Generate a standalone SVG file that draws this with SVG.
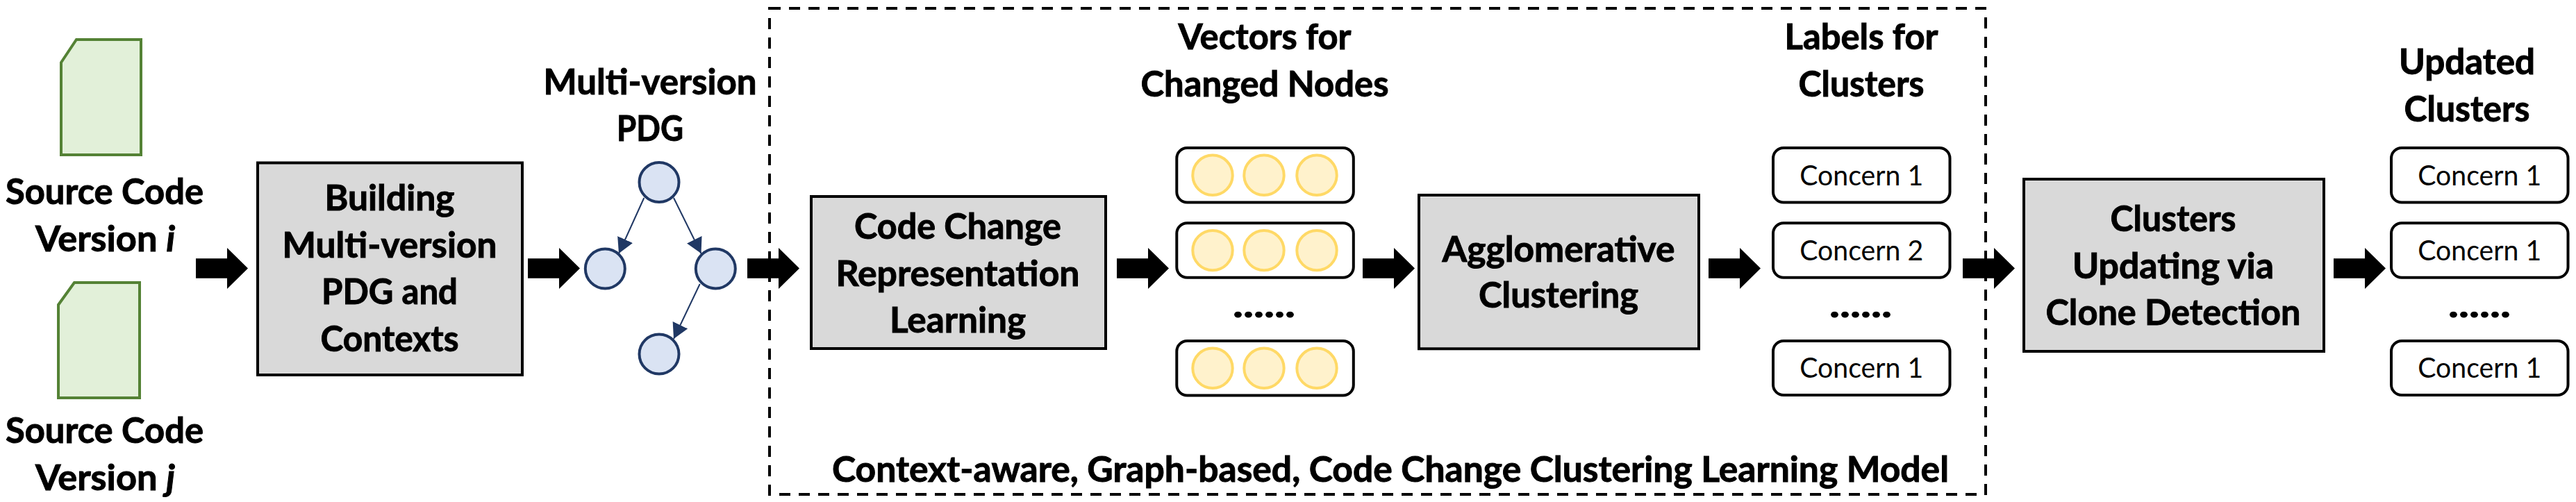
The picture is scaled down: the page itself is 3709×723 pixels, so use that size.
<svg xmlns="http://www.w3.org/2000/svg" xmlns:xlink="http://www.w3.org/1999/xlink" width="3709" height="723" viewBox="0 0 3709 723">
<style>
text{font-family:"Lato","Open Sans","Liberation Sans",sans-serif;fill:#000;text-anchor:middle}
.b{font-size:52px;font-weight:700;stroke:#000;stroke-width:1px}
.c{font-size:40px;font-weight:400}
.doc{fill:#E2F0D9;stroke:#548235;stroke-width:4}
.proc{fill:#D9D9D9;stroke:#000;stroke-width:4}
.pn{fill:#DAE3F3;stroke:#203864;stroke-width:4}
.rr{fill:#fff;stroke:#000;stroke-width:4}
.y{fill:#FFF2CC;stroke:#FFD966;stroke-width:4}
.e{stroke:#203864;stroke-width:2;fill:none;marker-end:url(#tri)}
.dash{fill:none;stroke:#000;stroke-width:4;stroke-dasharray:16 12}
</style>
<defs>
<marker id="tri" markerUnits="userSpaceOnUse" markerWidth="24" markerHeight="26" refX="22" refY="12" orient="auto"><path d="M0 0L22 12L0 24z" fill="#203864"/></marker>
<path id="ba" d="M0 -14.300H45V-29.500L75 0L45 29.500V14.300H0z" fill="#000"/>
<g id="vec"><rect class="rr" x="0" y="0" width="254.500" height="78.500" rx="15"/><circle class="y" cx="51.700" cy="39.300" r="28.700"/><circle class="y" cx="125.700" cy="39.300" r="28.700"/><circle class="y" cx="201.700" cy="39.300" r="28.700"/></g>
</defs>
<g id="container"><path class="dash" d="M1106 12H1108M1108 12H2860M1108 26V714M2859 25V713M1122 712H2846"/></g>
<g id="source-i"><path class="doc" d="M110 57H203V223H88V90z"/>
<text class="b" x="150.500" y="294" textLength="285" lengthAdjust="spacingAndGlyphs">Source Code</text>
<text class="b" x="151.500" y="361.700" textLength="201" lengthAdjust="spacingAndGlyphs">Version <tspan font-style="italic">i</tspan></text></g>
<g id="source-j"><path class="doc" d="M107 407H201V573H84V439z"/>
<text class="b" x="150.500" y="638" textLength="285" lengthAdjust="spacingAndGlyphs">Source Code</text>
<text class="b" x="151.500" y="705.700" textLength="201" lengthAdjust="spacingAndGlyphs">Version <tspan font-style="italic">j</tspan></text></g>
<g id="building"><rect class="proc" x="371" y="234.500" width="381" height="305.500"/>
<text class="b" x="561" y="302.700" textLength="187" lengthAdjust="spacingAndGlyphs">Building</text>
<text class="b" x="561" y="370.700" textLength="309" lengthAdjust="spacingAndGlyphs">Multi-version</text>
<text class="b" x="561" y="437.700" textLength="196" lengthAdjust="spacingAndGlyphs">PDG and</text>
<text class="b" x="561" y="505.700" textLength="199" lengthAdjust="spacingAndGlyphs">Contexts</text></g>
<g id="pdg"><text class="b" x="936" y="135.700" textLength="307" lengthAdjust="spacingAndGlyphs">Multi-version</text>
<text class="b" x="936" y="202.700" textLength="96" lengthAdjust="spacingAndGlyphs">PDG</text>
<circle class="pn" cx="949" cy="262.500" r="28.500"/><circle class="pn" cx="871.300" cy="387" r="28.500"/><circle class="pn" cx="1030.300" cy="387" r="28.500"/><circle class="pn" cx="949" cy="510" r="28.500"/>
<path class="e" d="M927.300 285L891 365"/><path class="e" d="M970 285L1009.500 365"/><path class="e" d="M1007.700 409L970 488"/></g>
<g id="repr"><rect class="proc" x="1168" y="283" width="424" height="219"/>
<text class="b" x="1379" y="344.200" textLength="298" lengthAdjust="spacingAndGlyphs">Code Change</text>
<text class="b" x="1379" y="411.700" textLength="351" lengthAdjust="spacingAndGlyphs">Representation</text>
<text class="b" x="1379" y="478.700" textLength="196" lengthAdjust="spacingAndGlyphs">Learning</text></g>
<g id="vectors"><text class="b" x="1821" y="71.200" textLength="249" lengthAdjust="spacingAndGlyphs">Vectors for</text>
<text class="b" x="1821" y="138.700" textLength="357" lengthAdjust="spacingAndGlyphs">Changed Nodes</text>
<use xlink:href="#vec" href="#vec" x="1694.300" y="213"/><use xlink:href="#vec" href="#vec" x="1694.300" y="321.300"/><use xlink:href="#vec" href="#vec" x="1694.300" y="491"/>
<text class="b" x="1820" y="456.500" textLength="90" lengthAdjust="spacingAndGlyphs">......</text></g>
<g id="agglo"><rect class="proc" x="2043" y="281" width="403" height="221.300"/>
<text class="b" x="2244" y="376.700" textLength="335" lengthAdjust="spacingAndGlyphs">Agglomerative</text>
<text class="b" x="2244" y="443.200" textLength="230" lengthAdjust="spacingAndGlyphs">Clustering</text></g>
<g id="labels"><text class="b" x="2680" y="71.200" textLength="221" lengthAdjust="spacingAndGlyphs">Labels for</text>
<text class="b" x="2680" y="138.700" textLength="181" lengthAdjust="spacingAndGlyphs">Clusters</text>
<rect class="rr" x="2553" y="213" width="254.500" height="78.500" rx="15"/><text class="c" x="2680.300" y="266.500" textLength="178" lengthAdjust="spacingAndGlyphs">Concern 1</text>
<rect class="rr" x="2553" y="321.300" width="254.500" height="78.500" rx="15"/><text class="c" x="2680.300" y="374.500" textLength="178" lengthAdjust="spacingAndGlyphs">Concern 2</text>
<text class="b" x="2679" y="456.500" textLength="90" lengthAdjust="spacingAndGlyphs">......</text>
<rect class="rr" x="2553" y="491" width="254.500" height="78" rx="15"/><text class="c" x="2680.300" y="544" textLength="178" lengthAdjust="spacingAndGlyphs">Concern 1</text></g>
<g id="clone"><rect class="proc" x="2914" y="258" width="432" height="248"/>
<text class="b" x="3129" y="332.700" textLength="181" lengthAdjust="spacingAndGlyphs">Clusters</text>
<text class="b" x="3129" y="400.700" textLength="290" lengthAdjust="spacingAndGlyphs">Updating via</text>
<text class="b" x="3129" y="467.700" textLength="367" lengthAdjust="spacingAndGlyphs">Clone Detection</text></g>
<g id="updated"><text class="b" x="3552" y="106.700" textLength="196" lengthAdjust="spacingAndGlyphs">Updated</text>
<text class="b" x="3552" y="174.700" textLength="181" lengthAdjust="spacingAndGlyphs">Clusters</text>
<rect class="rr" x="3443" y="213" width="254.500" height="78.500" rx="15"/><text class="c" x="3570.300" y="266.500" textLength="178" lengthAdjust="spacingAndGlyphs">Concern 1</text>
<rect class="rr" x="3443" y="321.300" width="254.500" height="78.500" rx="15"/><text class="c" x="3570.300" y="374.500" textLength="178" lengthAdjust="spacingAndGlyphs">Concern 1</text>
<text class="b" x="3570" y="456.500" textLength="90" lengthAdjust="spacingAndGlyphs">......</text>
<rect class="rr" x="3443" y="491" width="254.500" height="78" rx="15"/><text class="c" x="3570.300" y="544" textLength="178" lengthAdjust="spacingAndGlyphs">Concern 1</text></g>
<g id="title"><text class="b" x="2002" y="693.700" textLength="1608" lengthAdjust="spacingAndGlyphs">Context-aware, Graph-based, Code Change Clustering Learning Model</text></g>
<g id="connectors">
<use xlink:href="#ba" href="#ba" x="282" y="386.500"/><use xlink:href="#ba" href="#ba" x="760" y="386.500"/><use xlink:href="#ba" href="#ba" x="1076" y="386.500"/><use xlink:href="#ba" href="#ba" x="1608" y="386.500"/><use xlink:href="#ba" href="#ba" x="1962" y="386.500"/><use xlink:href="#ba" href="#ba" x="2460" y="386.500"/><use xlink:href="#ba" href="#ba" x="2826" y="386.500"/><use xlink:href="#ba" href="#ba" x="3360" y="386.500"/>
</g>
</svg>
